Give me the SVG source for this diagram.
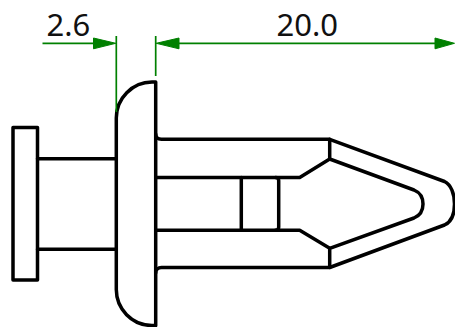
<svg xmlns="http://www.w3.org/2000/svg" width="455" height="327" viewBox="0 0 455 327">
<style>
.o{fill:none;stroke:#000;stroke-width:3.5;stroke-linejoin:round;stroke-linecap:round}
.d{fill:none;stroke:#008000;stroke-width:1.7}
.a{fill:#008000;stroke:#008000;stroke-width:1;stroke-linejoin:round}
.t{font-family:"Noto Sans","Open Sans",sans-serif;font-size:31px;fill:#111}
</style>
<rect width="455" height="327" fill="#fff"/>
<g id="part">
<path class="o" d="M13 127.500H37.500V280H13Z"/>
<path class="o" d="M37.500 158.700H116.300M37.500 249.300H116.300"/>
<path class="o" d="M116.300 289V118A36 36 0 0 1 152 82H155.700V325.500H152A36 36 0 0 1 116.300 289Z"/>
<path class="o" d="M155.700 134C155.700 137.500 158 139.300 161.500 139.300H329.700L444.500 181.500C451 184.500 454.500 194 454.500 204C454.500 214 451 222 444.500 225L329.700 267.500H161.500C158 267.500 155.700 269.500 155.700 273"/>
<path class="o" d="M329.700 139.300V159L414 190C420 192.500 423 198 423 204C423 210 420 215.500 414 218L329.700 248.300V267.500"/>
<path class="o" d="M155.700 177.500H299.700L329.700 159M155.700 230.300H299.700L329.700 248.300"/>
<path class="o" d="M241.300 177.500V230.300"/>
<path class="o" d="M275.500 177.500C277.500 177.500 278.700 178.700 278.700 180.500V227.300C278.700 229 277.500 230.300 275.500 230.300"/>
</g>
<g id="dimensions">
<path class="d" d="M42.500 43.300H95M178 43.300H436M116.300 36V112M155.700 36V76"/>
<path class="a" d="M115.800 43.300L93.500 38V48.800Z"/>
<path class="a" d="M156.200 43.300L179 38V48.800Z"/>
<path class="a" d="M454.500 43.300L435 38V48.800Z"/>
<text class="t" x="46.500" y="35.700">2.6</text>
<text class="t" x="276.500" y="35.700">20.0</text>
</g>
</svg>
